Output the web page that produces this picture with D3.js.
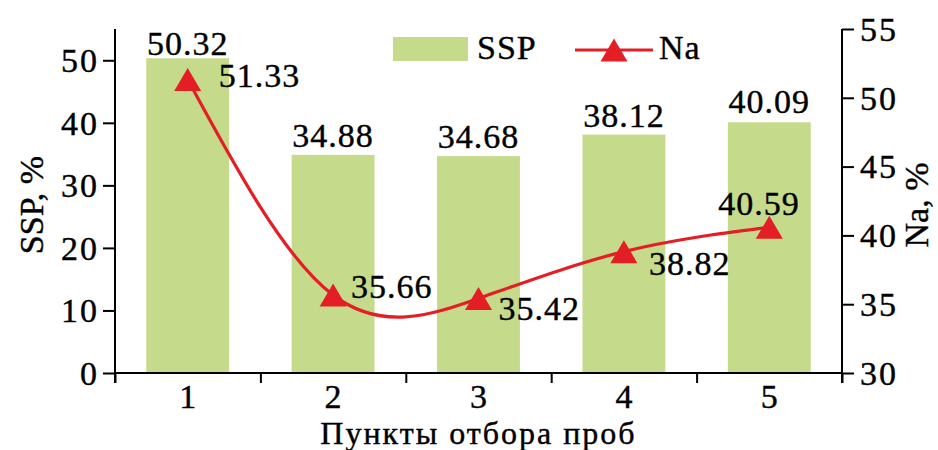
<!DOCTYPE html>
<html lang="ru">
<head>
<meta charset="UTF-8">
<title>SSP и Na по пунктам отбора проб</title>
<script src="https://d3js.org/d3.v7.min.js"></script>
<style>
  body { margin: 0; background: #fff; }
  svg text { font-family: "Liberation Serif"; font-size: 34px; fill: #000; stroke: #000; stroke-width: 0.4px; }
  .flat { letter-spacing: 1px; }
  .tick text { letter-spacing: 2px; }
  .x-title { font-size: 32px; letter-spacing: 2px; }
</style>
</head>
<body>
<div id="chart"></div>
<script>
const points = ["1", "2", "3", "4", "5"];
const sspValues = [50.32, 34.88, 34.68, 38.12, 40.09];
const naValues = [51.33, 35.66, 35.42, 38.82, 40.59];
const sspTicks = [0, 10, 20, 30, 40, 50];
const naTicks = [30, 35, 40, 45, 50, 55];

// label offsets picked by hand, like in the original figure
const sspLabelDy = [-3, -8, -8, -8, -9];
const naLabelOffset = [[31, 8], [18, 3], [20, 22], [25, 23], [-51, -12]];

const width = 938, height = 450;
const margin = {top: 29, right: 96, bottom: 77, left: 115};
const innerW = width - margin.left - margin.right;
const innerH = height - margin.top - margin.bottom;

const barColor = "#c5da8b";
const lineColor = "#e31e24";

const svg = d3.select("#chart").append("svg")
    .attr("width", width)
    .attr("height", height);

const g = svg.append("g")
    .attr("transform", `translate(${margin.left},${margin.top})`);

const x = d3.scaleBand().domain(points).range([0, innerW])
    .paddingInner(0.43).paddingOuter(0.215);
const xEdge = d3.scaleLinear().domain([0, points.length]).range([0, innerW]);
const yL = d3.scaleLinear().domain([0, 55]).range([innerH, 0]);
const yR = d3.scaleLinear().domain([30, 55]).range([innerH, 0]);
const cx = d => x(d) + x.bandwidth() / 2;

// bars
g.selectAll("rect.bar")
    .data(points)
    .join("rect")
    .attr("class", "bar")
    .attr("x", d => x(d))
    .attr("width", x.bandwidth())
    .attr("y", (d, i) => yL(sspValues[i]))
    .attr("height", (d, i) => yL(0) - yL(sspValues[i]))
    .attr("fill", barColor);

g.selectAll("text.ssp-label")
    .data(points)
    .join("text")
    .attr("class", "ssp-label flat")
    .attr("x", d => cx(d))
    .attr("y", (d, i) => yL(sspValues[i]) + sspLabelDy[i])
    .attr("text-anchor", "middle")
    .text((d, i) => sspValues[i].toFixed(2));

// Na line
const line = d3.line()
    .x((d, i) => cx(points[i]))
    .y(d => yR(d))
    .curve(d3.curveNatural);

g.append("path")
    .datum(naValues)
    .attr("d", line)
    .attr("fill", "none")
    .attr("stroke", lineColor)
    .attr("stroke-width", 3.2);

const tri = "M0,-11.5L13.5,11.5L-13.5,11.5Z";

g.selectAll("path.marker")
    .data(points)
    .join("path")
    .attr("class", "marker")
    .attr("d", tri)
    .attr("transform", (d, i) => `translate(${cx(d)},${yR(naValues[i])})`)
    .attr("fill", lineColor);

g.selectAll("text.na-label")
    .data(points)
    .join("text")
    .attr("class", "na-label flat")
    .attr("x", (d, i) => cx(d) + naLabelOffset[i][0])
    .attr("y", (d, i) => yR(naValues[i]) + naLabelOffset[i][1])
    .text((d, i) => naValues[i].toFixed(2));

// axes
const leftAxis = g.append("g")
    .call(d3.axisLeft(yL).tickValues(sspTicks).tickSize(12).tickPadding(4));
const rightAxis = g.append("g")
    .attr("transform", `translate(${innerW},0)`)
    .call(d3.axisRight(yR).tickValues(naTicks).tickSize(12).tickPadding(6));
const bottomTicks = g.append("g")
    .attr("transform", `translate(0,${innerH})`)
    .call(d3.axisBottom(xEdge).tickValues(d3.range(points.length + 1))
        .tickSize(10).tickFormat(""));

[leftAxis, rightAxis, bottomTicks].forEach(a => {
    a.select(".domain").remove();
    a.selectAll(".tick line").attr("stroke", "#000").attr("stroke-width", 2);
});
leftAxis.selectAll(".tick text").attr("dy", "0.33em");
rightAxis.selectAll(".tick text").attr("dy", "0.33em");

g.selectAll("text.x-label")
    .data(points)
    .join("text")
    .attr("class", "x-label")
    .attr("x", d => cx(d))
    .attr("y", innerH + 35)
    .attr("text-anchor", "middle")
    .text(d => d);

// axis lines
const axisLines = [
    [0, 0, 0, innerH + 10],
    [innerW, 0, innerW, innerH + 10],
    [0, innerH, innerW, innerH]
];
g.selectAll("line.axis-line")
    .data(axisLines)
    .join("line")
    .attr("class", "axis-line")
    .attr("x1", d => d[0]).attr("y1", d => d[1])
    .attr("x2", d => d[2]).attr("y2", d => d[3])
    .attr("stroke", "#000")
    .attr("stroke-width", 2);

// axis titles
g.append("text")
    .attr("class", "x-title")
    .attr("x", innerW / 2)
    .attr("y", innerH + 71)
    .attr("text-anchor", "middle")
    .text("Пункты отбора проб");

svg.append("text")
    .attr("transform", "translate(43,205) rotate(-90)")
    .attr("text-anchor", "middle")
    .text("SSP, %");

svg.append("text")
    .attr("transform", "translate(928,205) rotate(-90)")
    .attr("text-anchor", "middle")
    .text("Na, %");

// legend
const legend = svg.append("g");
legend.append("rect")
    .attr("x", 393).attr("y", 37)
    .attr("width", 75).attr("height", 24)
    .attr("fill", barColor);
legend.append("text")
    .attr("x", 477).attr("y", 59)
    .attr("class", "flat")
    .text("SSP");
legend.append("line")
    .attr("x1", 575).attr("x2", 653)
    .attr("y1", 50).attr("y2", 50)
    .attr("stroke", lineColor)
    .attr("stroke-width", 3);
legend.append("path")
    .attr("d", tri)
    .attr("transform", "translate(614,50)")
    .attr("fill", lineColor);
legend.append("text")
    .attr("x", 659).attr("y", 59)
    .attr("class", "flat")
    .text("Na");
</script>
</body>
</html>
